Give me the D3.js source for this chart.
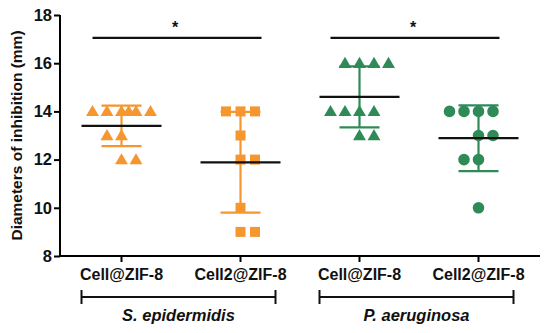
<!DOCTYPE html>
<html><head><meta charset="utf-8">
<script src="https://cdn.jsdelivr.net/npm/d3@7"></script>
<style>body{margin:0;background:#fff}svg{display:block}text{font-family:"Liberation Sans",Arial,sans-serif}</style>
</head><body><svg id="c" width="550" height="333"></svg>
<script>
const categories = ["Cell@ZIF-8", "Cell2@ZIF-8", "Cell@ZIF-8", "Cell2@ZIF-8"];
const groups = ["S. epidermidis", "P. aeruginosa"];
const groupMembers = [[0, 1], [2, 3]];
const seCell = [14, 14, 14, 14, 14, 14, 13, 13, 12, 12];
const seCell2 = [14, 14, 14, 13, 12, 12, 10, 9, 9];
const paCell = [16, 16, 16, 16, 14, 14, 14, 14, 13, 13];
const paCell2 = [14, 14, 14, 14, 13, 13, 12, 12, 10];
const seriesValues = [seCell, seCell2, paCell, paCell2];
const symbols = ["triangle", "square", "triangle", "circle"];
const colors = ["#F5962F", "#F5962F", "#2E8B57", "#2E8B57"];
const yTicks = [8, 10, 12, 14, 16, 18];
const sigPairs = [[0, 1], [2, 3]];
const sigLabel = "*";
const sigLevel = 17.05;

const svg = d3.select("#c");
const x = d3.scaleBand().domain(d3.range(categories.length)).range([62, 538]);
const y = d3.scaleLinear().domain([8, 18]).range([256, 15]);
const cx = i => x(i) + x.bandwidth() / 2;

// axes
const yAxis = d3.axisLeft(y).tickValues(yTicks).tickSize(6).tickPadding(2).tickFormat(d3.format("d"));
const gy = svg.append("g").attr("transform", "translate(60,0)").call(yAxis);
gy.select(".domain").attr("stroke-width", 2).attr("d", "M0," + y(18) + "V" + (y(8) + 1));
gy.selectAll(".tick line").attr("stroke-width", 2);
gy.selectAll(".tick text").attr("font-size", 16.5).attr("font-weight", "bold").attr("fill", "#111");

const xAxis = d3.axisBottom(x).tickSize(6).tickPadding(5).tickFormat(i => categories[i]);
const gx = svg.append("g").attr("transform", "translate(0,256)").call(xAxis);
gx.select(".domain").attr("stroke-width", 2).attr("d", "M59,0H540");
gx.selectAll(".tick line").attr("stroke-width", 2);
gx.selectAll(".tick text").attr("font-size", 16).attr("font-weight", "bold").attr("fill", "#111").attr("dy", "0.8em");

svg.append("text").attr("transform", "translate(22," + ((y(8) + y(18)) / 2) + ") rotate(-90)")
  .attr("text-anchor", "middle").attr("font-size", 15.5).attr("font-weight", "bold").attr("fill", "#111")
  .text("Diameters of inhibition (mm)");

// group brackets
groupMembers.forEach((m, gi) => {
  const x0 = cx(m[0]) - 40, x1 = cx(m[1]) + 35, by = 297;
  const g = svg.append("g").attr("stroke", "#111").attr("stroke-width", 2);
  g.append("line").attr("x1", x0).attr("x2", x1).attr("y1", by).attr("y2", by);
  g.append("line").attr("x1", x0).attr("x2", x0).attr("y1", by - 7).attr("y2", by + 7);
  g.append("line").attr("x1", x1).attr("x2", x1).attr("y1", by - 7).attr("y2", by + 7);
  svg.append("text").attr("x", (x0 + x1) / 2).attr("y", 321).attr("text-anchor", "middle")
    .attr("font-size", 16.5).attr("font-weight", "bold").attr("font-style", "italic").attr("fill", "#111")
    .text(groups[gi]);
});

// slot layout (Prism-like scatter)
function slotsFor(n, rowIdx) {
  if (n === 1) return [0];
  if (n > 5) {
    const s = [-2, -1, 0, 1, 2];
    const extra = [0.5, -0.5, 1.5, -1.5];
    for (let k = 0; k < n - 5; k++) s.push(extra[k % extra.length]);
    return s;
  }
  const start = n % 2 ? -(n - 1) / 2 : (rowIdx % 2 === 0 ? -(n / 2 - 1) : -n / 2);
  return d3.range(n).map(k => start + k);
}
const slotW = 14.5;
const symType = { triangle: d3.symbolTriangle, square: d3.symbolSquare, circle: d3.symbolCircle };
const symSize = { triangle: 72, square: 100, circle: 105 };

seriesValues.forEach((vals, i) => {
  const c = cx(i), col = colors[i];
  const mean = d3.mean(vals), sd = d3.deviation(vals);
  // error bar
  const eg = svg.append("g").attr("stroke", col).attr("stroke-width", 2.2);
  eg.append("line").attr("x1", c).attr("x2", c).attr("y1", y(mean + sd)).attr("y2", y(mean - sd));
  [mean + sd, mean - sd].forEach(v => eg.append("line").attr("x1", c - 20).attr("x2", c + 20).attr("y1", y(v)).attr("y2", y(v)));
  // points
  const rows = d3.groups(vals, v => v).sort((a, b) => a[0] - b[0]);
  const pts = [];
  rows.forEach(([v, arr], ri) => {
    slotsFor(arr.length, ri).forEach(s => pts.push({ v, s }));
  });
  svg.append("g").selectAll("path").data(pts).join("path")
    .attr("d", d3.symbol().type(symType[symbols[i]]).size(symSize[symbols[i]]))
    .attr("transform", d => "translate(" + (c + d.s * slotW) + "," + (y(d.v) + (symbols[i] === "triangle" ? 1 : 0)) + ")")
    .attr("fill", col);
  // mean line
  svg.append("line").attr("x1", c - 40).attr("x2", c + 40).attr("y1", y(mean)).attr("y2", y(mean))
    .attr("stroke", "#111").attr("stroke-width", 2.2);
});

// significance
sigPairs.forEach(([a, b]) => {
  const x0 = cx(a) - 29, x1 = cx(b) + 21, ly = y(sigLevel);
  svg.append("line").attr("x1", x0).attr("x2", x1).attr("y1", ly).attr("y2", ly)
    .attr("stroke", "#111").attr("stroke-width", 2.2);
  svg.append("text").attr("x", (x0 + x1) / 2 - 2).attr("y", ly - 5).attr("text-anchor", "middle")
    .attr("font-size", 16).attr("font-weight", "bold").attr("fill", "#111").text(sigLabel);
});
</script></body></html>
